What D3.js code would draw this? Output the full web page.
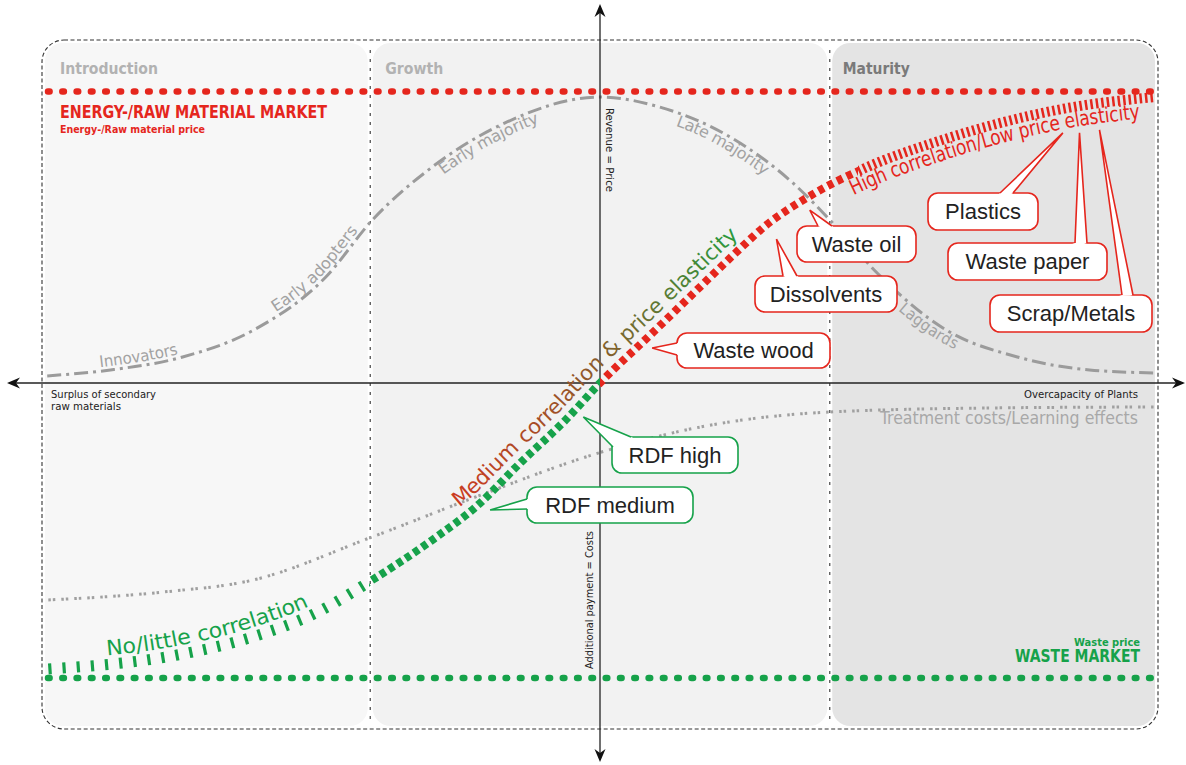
<!DOCTYPE html>
<html><head><meta charset="utf-8">
<script src="https://cdn.jsdelivr.net/npm/d3@7"></script>
<style>html,body{margin:0;padding:0;background:#fff;} svg{display:block;}</style>
</head><body><svg id="chart" width="1186" height="765"></svg>
<script>
// ---------------- data ----------------
const phases = ["Introduction", "Growth", "Maturity"];
const phaseBounds = [0, 29.3, 70.7, 100];           // life-cycle position 0..100
const energyPriceLevel = 98.5;                       // energy-/raw material price level
const wastePriceLevel = -99.7;                       // waste price level

// adoption (diffusion) bell curve
const adoptX = [0.2, 5.9, 12.4, 18.8, 25.3, 29.5, 34.9, 41.4, 50, 55.4, 61.4, 67.4, 70.7, 74.7, 81.2, 87.6, 94.1, 100];
const adoptY = [2.4, 4.4, 8.8, 17.9, 35.8, 55.1, 73, 87.8, 96.6, 93.2, 83.8, 67.5, 55.1, 38.2, 17.9, 8.8, 4.4, 3.4];
const adoptLabels = ["Innovators", "Early adopters", "Early majority", "Late majority", "Laggards"];
const adoptLabelStart = [5, 21.0, 35.2, 57.2, 77.6];

// secondary raw material price S-curve (revenue / additional payment)
const priceX = [0.3, 11.9, 18.7, 24.4, 29.2, 34.9, 38.8, 42.9, 46.9, 50, 54.8, 59, 62, 65, 68.6, 74.1, 80, 86, 92.1, 100];
const priceY = [-96.6, -91.9, -85.8, -77.7, -67.2, -53, -41.9, -26.7, -12.5, 0, 17.2, 32.4, 43.2, 53.4, 62.5, 73, 81.1, 87.8, 92.9, 96.6];

// treatment costs / learning effects
const costX = [0.3, 10.7, 18.7, 29.2, 38.8, 49.9, 59, 70.7, 86, 100];
const costY = [-73.3, -70.6, -66.6, -52.4, -38.5, -23.6, -14.9, -9.8, -8.4, -8.1];

// callouts (label, point on chart in data units)
const redCallouts = ["Waste oil", "Dissolvents", "Waste wood", "Plastics", "Waste paper", "Scrap/Metals"];
const redTipX = [68.9, 65.9, 54.7, 91.7, 93.2, 95.0];
const redTipY = [58.4, 48.6, 11.8, 84.5, 84.5, 85.5];
const greenCallouts = ["RDF high", "RDF medium"];
const greenTipX = [48.5, 40.1];
const greenTipY = [-11.5, -42.9];

// ---------------- layout ----------------
const RED = "#e5261d", GREEN = "#16a24a", GREYC = "#9b9b9b";
const LF = "'DejaVu Sans Condensed','DejaVu Sans',sans-serif";
// box [x, y, w, h] and two pointer base points (px)
const redBoxes = [
  {b:[797,226,119,36], base:[[818,226],[832,226]]},
  {b:[755,276,142,36], base:[[783,276],[797,276]]},
  {b:[677,333,153,35], base:[[677,343],[677,355]]},
  {b:[928,193,110,37], base:[[1000,193],[1013,193]]},
  {b:[948,243,159,37], base:[[1075,243],[1087,243]]},
  {b:[990,295,162,37], base:[[1122,295],[1133,295]]}
];
const greenBoxes = [
  {b:[612,437,126,36], base:[[613,447],[631,437]]},
  {b:[527,487,166,36], base:[[527,499],[527,509]]}
];

const svg = d3.select("#chart");
const x = d3.scaleLinear().domain([0, 100]).range([45, 1155]);
const y = d3.scaleLinear().domain([-100, 100]).range([679, 87]);
const defs = svg.append("defs");

// ---- panels ----
const panelColors = ["#f7f7f7", "#f2f2f2", "#e4e4e4"];
phases.forEach((p, i) => {
  const x0 = x(phaseBounds[i]) + (i > 0 ? 2.5 : 0);
  const x1 = x(phaseBounds[i + 1]) - (i < 2 ? 2.5 : 0);
  svg.append("rect").attr("x", x0).attr("y", 43).attr("width", x1 - x0).attr("height", 683)
    .attr("rx", 18).attr("fill", panelColors[i]);
  svg.append("text").attr("x", x(phaseBounds[i]) + (i < 2 ? 15 : 13)).attr("y", 74)
    .attr("font-family", LF).attr("font-stretch", "condensed").attr("font-weight", "bold")
    .attr("font-size", 15).attr("fill", i < 2 ? "#b2b2b2" : "#7a7a7a")
    .attr("textLength", [98, 58, 67][i]).attr("lengthAdjust", "spacingAndGlyphs").text(p);
});
svg.append("rect").attr("x", 42).attr("y", 40).attr("width", 1116).attr("height", 689).attr("rx", 22)
  .attr("fill", "none").attr("stroke", "#333").attr("stroke-width", 1.1).attr("stroke-dasharray", "4 2.5");
[1, 2].forEach(i => {
  svg.append("line").attr("x1", x(phaseBounds[i])).attr("x2", x(phaseBounds[i]))
    .attr("y1", 50).attr("y2", 720).attr("stroke", "#444").attr("stroke-width", 1.2)
    .attr("stroke-dasharray", "3 6");
});

// ---- market price lines ----
function dotted(level, color) {
  svg.append("line").attr("x1", x(0) + 3).attr("x2", x(100) - 1).attr("y1", y(level)).attr("y2", y(level))
    .attr("stroke", color).attr("stroke-width", 6.5).attr("stroke-linecap", "round")
    .attr("stroke-dasharray", "1.6 12.7");
}
dotted(energyPriceLevel, RED);
dotted(wastePriceLevel, GREEN);

svg.append("text").attr("x", 60).attr("y", 118).attr("font-family", LF).attr("font-stretch", "condensed")
  .attr("font-weight", "bold").attr("font-size", 17).attr("fill", RED)
  .attr("textLength", 267).attr("lengthAdjust", "spacingAndGlyphs").text("ENERGY-/RAW MATERIAL MARKET");
svg.append("text").attr("x", 60).attr("y", 133).attr("font-family", LF).attr("font-stretch", "condensed")
  .attr("font-weight", "bold").attr("font-size", 11).attr("fill", RED)
  .attr("textLength", 145).attr("lengthAdjust", "spacingAndGlyphs").text("Energy-/Raw material price");
svg.append("text").attr("x", 1140).attr("y", 646).attr("text-anchor", "end").attr("font-family", LF)
  .attr("font-stretch", "condensed").attr("font-weight", "bold").attr("font-size", 11).attr("fill", GREEN)
  .text("Waste price");
svg.append("text").attr("x", 1140).attr("y", 662).attr("text-anchor", "end").attr("font-family", LF)
  .attr("font-stretch", "condensed").attr("font-weight", "bold").attr("font-size", 17).attr("fill", GREEN)
  .attr("textLength", 125).attr("lengthAdjust", "spacingAndGlyphs").text("WASTE MARKET");

// ---- curves ----
const line = d3.line().x(d => x(d[0])).y(d => y(d[1])).curve(d3.curveMonotoneX);
const costPts = costX.map((v, i) => [v, costY[i]]);
const adoptPts = adoptX.map((v, i) => [v, adoptY[i]]);
const pricePts = priceX.map((v, i) => [v, priceY[i]]);

svg.append("path").attr("d", line(costPts)).attr("fill", "none").attr("stroke", "#a0a0a0")
  .attr("stroke-width", 3).attr("stroke-dasharray", "2.5 2 2.5 6");
svg.append("path").attr("id", "adopt").attr("d", line(adoptPts)).attr("fill", "none").attr("stroke", GREYC)
  .attr("stroke-width", 3).attr("stroke-dasharray", "14 5 3 5");

// ---- axes ----
const ox = x(50), oy = y(0);
svg.append("line").attr("x1", ox).attr("x2", ox).attr("y1", 6).attr("y2", 759).attr("stroke", "#222").attr("stroke-width", 1.3);
svg.append("line").attr("x1", 9).attr("x2", 1183).attr("y1", oy).attr("y2", oy).attr("stroke", "#222").attr("stroke-width", 1.3);
function arrow(tx, ty, ang) {
  svg.append("path").attr("d", "M0,0 L-13,-5.5 L-9,0 L-13,5.5 Z").attr("fill", "#111")
    .attr("transform", `translate(${tx},${ty}) rotate(${ang})`);
}
arrow(ox, 4, -90); arrow(ox, 762, 90); arrow(7, oy, 180); arrow(1185, oy, 0);

// ---- price S-curve, styled by clip region ----
const segs = [
  {x0: 0, x1: x(29.2), color: GREEN, w: 11, dash: "3.2 11"},
  {x0: x(29.2), x1: ox, color: GREEN, w: 8, dash: "6 4"},
  {x0: ox, x1: 858, color: RED, w: 8, dash: "6 4.5"},
  {x0: 858, x1: 1186, color: RED, w: 10, dash: "2.5 3"}
];
segs.forEach((s, i) => {
  defs.append("clipPath").attr("id", "cp" + i).append("rect")
    .attr("x", s.x0).attr("y", 0).attr("width", s.x1 - s.x0).attr("height", 765);
  svg.append("path").attr("d", line(pricePts)).attr("fill", "none").attr("stroke", s.color)
    .attr("stroke-width", s.w).attr("stroke-dasharray", s.dash).attr("clip-path", `url(#cp${i})`);
});
svg.append("path").attr("id", "price").attr("d", line(pricePts)).attr("fill", "none").attr("stroke", "none");

// helper: path length at a given pixel x
function lenAtX(id, px) {
  const p = document.getElementById(id);
  let lo = 0, hi = p.getTotalLength();
  for (let k = 0; k < 40; k++) {
    const m = (lo + hi) / 2;
    if (p.getPointAtLength(m).x < px) lo = m; else hi = m;
  }
  return lo;
}
function pathText(id, str, startPx, dy, size, fill, len) {
  const t = svg.append("text").attr("font-family", LF).attr("font-stretch", "condensed")
    .attr("font-size", size).attr("fill", fill).attr("dy", dy);
  t.append("textPath").attr("href", "#" + id).attr("startOffset", lenAtX(id, startPx))
    .attr("textLength", len).attr("lengthAdjust", "spacingAndGlyphs").text(str);
}

// adoption labels
const adoptDy = [-4, -4, 13, 13, 13];
const adoptLen = [80, 118, 113, 106, 66];
adoptLabels.forEach((l, i) => pathText("adopt", l, x(adoptLabelStart[i]), adoptDy[i], 16, "#a2a2a2", adoptLen[i]));

// correlation labels
const grad = defs.append("linearGradient").attr("id", "medGrad").attr("gradientUnits", "userSpaceOnUse")
  .attr("x1", 455).attr("y1", 505).attr("x2", 740).attr("y2", 230);
grad.append("stop").attr("offset", 0).attr("stop-color", "#cc3a20");
grad.append("stop").attr("offset", 0.5).attr("stop-color", "#8c5a2a");
grad.append("stop").attr("offset", 1).attr("stop-color", "#279b3c");
pathText("price", "No/little correlation", 108, -9, 21, GREEN, 212);
pathText("price", "Medium correlation & price elasticity", 466, -10, 21, "url(#medGrad)", 390);
pathText("price", "High correlation/Low price elasticity", 845, 20, 21, RED, 305);

// ---- axis captions ----
function small(tx, ty, str, anchor, rot, len) {
  const t = svg.append("text").attr("font-family", LF).attr("font-stretch", "condensed")
    .attr("font-size", 10.5).attr("fill", "#222").attr("text-anchor", anchor)
    .attr("transform", `translate(${tx},${ty}) rotate(${rot})`).text(str);
  if (len) t.attr("textLength", len).attr("lengthAdjust", "spacingAndGlyphs");
}
small(606, 108, "Revenue = Price", "start", 90, 84);
small(593, 669, "Additional payment = Costs", "start", -90, 138);
small(51, 398, "Surplus of secondary", "start", 0, 105);
small(51, 410, "raw materials", "start", 0, 70);
small(1138, 398, "Overcapacity of Plants", "end", 0, 114);
svg.append("text").attr("x", 1138).attr("y", 424).attr("text-anchor", "end").attr("font-family", LF)
  .attr("font-stretch", "condensed").attr("font-size", 17).attr("fill", "#a8a8a8")
  .attr("textLength", 258).attr("lengthAdjust", "spacingAndGlyphs").text("Treatment costs/Learning effects");

// ---- callouts ----
function callout(label, tip, box, color) {
  const g = svg.append("g");
  const [bx, by, bw, bh] = box.b;
  g.append("rect").attr("x", bx).attr("y", by).attr("width", bw).attr("height", bh).attr("rx", 10)
    .attr("fill", "#fff").attr("stroke", color).attr("stroke-width", 1.6);
  const cx = bx + bw / 2, cy = by + bh / 2;
  const inward = p => { const dx = cx - p[0], dy = cy - p[1], L = Math.hypot(dx, dy); return [p[0] + dx / L * 3, p[1] + dy / L * 3]; };
  const [b0, b1] = box.base;
  g.append("path").attr("d", d3.line()([b0, tip, b1, inward(b1), inward(b0)]) + "Z").attr("fill", "#fff");
  g.append("path").attr("d", d3.line()([b0, tip, b1])).attr("fill", "none").attr("stroke", color)
    .attr("stroke-width", 1.6).attr("stroke-linejoin", "miter");
  g.append("text").attr("x", cx).attr("y", cy).attr("dy", "0.36em").attr("text-anchor", "middle")
    .attr("font-family", "'Liberation Sans',Arial,sans-serif").attr("font-size", 22).attr("fill", "#222").text(label);
}
redCallouts.forEach((l, i) => callout(l, [x(redTipX[i]), y(redTipY[i])], redBoxes[i], RED));
greenCallouts.forEach((l, i) => callout(l, [x(greenTipX[i]), y(greenTipY[i])], greenBoxes[i], GREEN));
</script>
</body></html>
